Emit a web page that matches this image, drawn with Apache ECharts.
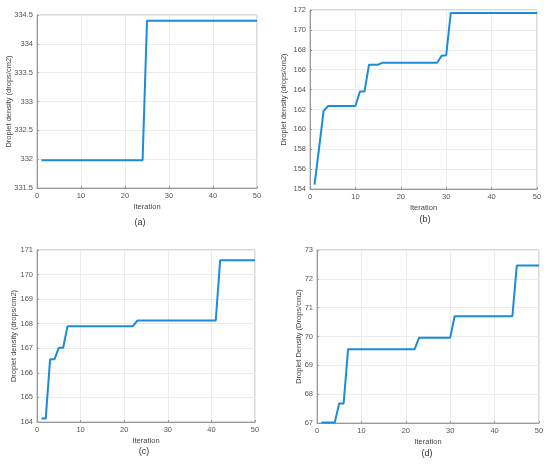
<!DOCTYPE html>
<html>
<head>
<meta charset="utf-8">
<style>
html, body { margin: 0; padding: 0; background: #fff; }
#chart1 { width: 550px; height: 468px; }
</style>
<script src="https://cdn.jsdelivr.net/npm/echarts@6/dist/echarts.min.js"></script>
</head>
<body>
<div id="chart1"></div>
<script>
// 迭代次数
var iterations = [1,2,3,4,5,6,7,8,9,10,11,12,13,14,15,16,17,18,19,20,21,22,23,24,25,
    26,27,28,29,30,31,32,33,34,35,36,37,38,39,40,41,42,43,44,45,46,47,48,49,50];

// (a)
var densityA = [331.98,331.98,331.98,331.98,331.98,331.98,331.98,331.98,331.98,331.98,
    331.98,331.98,331.98,331.98,331.98,331.98,331.98,331.98,331.98,331.98,
    331.98,331.98,331.98,331.98,334.4,334.4,334.4,334.4,334.4,334.4,
    334.4,334.4,334.4,334.4,334.4,334.4,334.4,334.4,334.4,334.4,
    334.4,334.4,334.4,334.4,334.4,334.4,334.4,334.4,334.4,334.4];
// (b)
var densityB = [154.45,158.1,161.85,162.35,162.35,162.35,162.35,162.35,162.35,162.35,
    163.8,163.8,166.5,166.5,166.5,166.7,166.7,166.7,166.7,166.7,
    166.7,166.7,166.7,166.7,166.7,166.7,166.7,166.7,167.4,167.45,
    171.7,171.7,171.7,171.7,171.7,171.7,171.7,171.7,171.7,171.7,
    171.7,171.7,171.7,171.7,171.7,171.7,171.7,171.7,171.7,171.7];
// (c)
var densityC = [164.14,164.14,166.55,166.55,167.02,167.02,167.9,167.9,167.9,167.9,
    167.9,167.9,167.9,167.9,167.9,167.9,167.9,167.9,167.9,167.9,
    167.9,167.9,168.13,168.13,168.13,168.13,168.13,168.13,168.13,168.13,
    168.13,168.13,168.13,168.13,168.13,168.13,168.13,168.13,168.13,168.13,
    168.13,170.58,170.58,170.58,170.58,170.58,170.58,170.58,170.58,170.58];
// (d)
var densityD = [67.02,67.02,67.02,67.02,67.68,67.68,69.56,69.56,69.56,69.56,
    69.56,69.56,69.56,69.56,69.56,69.56,69.56,69.56,69.56,69.56,
    69.56,69.56,69.96,69.96,69.96,69.96,69.96,69.96,69.96,69.96,
    70.7,70.7,70.7,70.7,70.7,70.7,70.7,70.7,70.7,70.7,
    70.7,70.7,70.7,70.7,72.46,72.46,72.46,72.46,72.46,72.46];

// 坐标轴范围
var xTicks = {min: 0, max: 50, interval: 10};
var yTicksA = {min: 331.5, max: 334.5, interval: 0.5};
var yTicksB = {min: 154, max: 172, interval: 2};
var yTicksC = {min: 164, max: 171, interval: 1};
var yTicksD = {min: 67, max: 73, interval: 1};

var panelLabels = ['(a)', '(b)', '(c)', '(d)'];
var yNames = ['Droplet density (drops/cm2)', 'Droplet density (drops/cm2)',
    'Droplet density (drops/cm2)', 'Droplet Density (Drops/cm2)'];

var lineColor = '#1a8cd8';
var font = 'Arial, "Liberation Sans", sans-serif';

function toPairs(ys){
    var out = [];
    for (var i = 0; i < iterations.length; i++) {
        out.push([iterations[i], ys[i]]);
    }
    return out;
}

function makeX(idx){
    return {
        gridIndex: idx,
        type: 'value',
        min: xTicks.min,
        max: xTicks.max,
        interval: xTicks.interval,
        name: 'Iteration',
        nameLocation: 'middle',
        nameGap: 15,
        nameTextStyle: {fontFamily: font, fontSize: 7.5, color: '#444'},
        axisLine: {show: true, lineStyle: {color: '#999', width: 1}},
        axisTick: {show: true, inside: true, length: 2, lineStyle: {color: '#999'}},
        axisLabel: {fontFamily: font, fontSize: 7.5, color: '#555', margin: 4},
        splitLine: {show: true, lineStyle: {color: '#ebebeb', width: 1}}
    };
}

function makeY(idx, t, gap){
    return {
        gridIndex: idx,
        type: 'value',
        min: t.min,
        max: t.max,
        interval: t.interval,
        name: yNames[idx],
        nameLocation: 'middle',
        nameGap: gap,
        nameMoveOverlap: false,
        nameTextStyle: {fontFamily: font, fontSize: 7.5, color: '#444'},
        axisLine: {show: true, lineStyle: {color: '#999', width: 1}},
        axisTick: {show: true, inside: true, length: 2, lineStyle: {color: '#999'}},
        axisLabel: {fontFamily: font, fontSize: 7.5, color: '#555', margin: 4},
        splitLine: {show: true, lineStyle: {color: '#ebebeb', width: 1}}
    };
}

function makeSeries(idx, ys){
    return {
        type: 'line',
        xAxisIndex: idx,
        yAxisIndex: idx,
        data: toPairs(ys),
        showSymbol: false,
        lineStyle: {color: lineColor, width: 2},
        itemStyle: {color: lineColor}
    };
}

var gridBox = {show: true, borderColor: '#b5b5b5', borderWidth: 1, backgroundColor: '#fff'};

var option = {
    animation: false,
    backgroundColor: '#fff',
    grid: [
        Object.assign({left: 37, top: 15, width: 220, height: 173}, gridBox),
        Object.assign({left: 310, top: 10, width: 227, height: 179}, gridBox),
        Object.assign({left: 37, top: 250, width: 218, height: 172}, gridBox),
        Object.assign({left: 317, top: 250, width: 222, height: 173}, gridBox)
    ],
    xAxis: [makeX(0), makeX(1), makeX(2), makeX(3)],
    yAxis: [
        makeY(0, yTicksA, 24),
        makeY(1, yTicksB, 22),
        makeY(2, yTicksC, 19),
        makeY(3, yTicksD, 14)
    ],
    series: [
        makeSeries(0, densityA),
        makeSeries(1, densityB),
        makeSeries(2, densityC),
        makeSeries(3, densityD)
    ],
    graphic: [
        {type: 'text', x: 140, y: 223, style: {text: panelLabels[0], font: '9px ' + font, fill: '#333', align: 'center', verticalAlign: 'middle'}},
        {type: 'text', x: 425, y: 220, style: {text: panelLabels[1], font: '9px ' + font, fill: '#333', align: 'center', verticalAlign: 'middle'}},
        {type: 'text', x: 144, y: 452, style: {text: panelLabels[2], font: '9px ' + font, fill: '#333', align: 'center', verticalAlign: 'middle'}},
        {type: 'text', x: 427, y: 454, style: {text: panelLabels[3], font: '9px ' + font, fill: '#333', align: 'center', verticalAlign: 'middle'}}
    ]
};

var myChart = echarts.init(document.getElementById('chart1'));
myChart.setOption(option);
</script>
</body>
</html>
